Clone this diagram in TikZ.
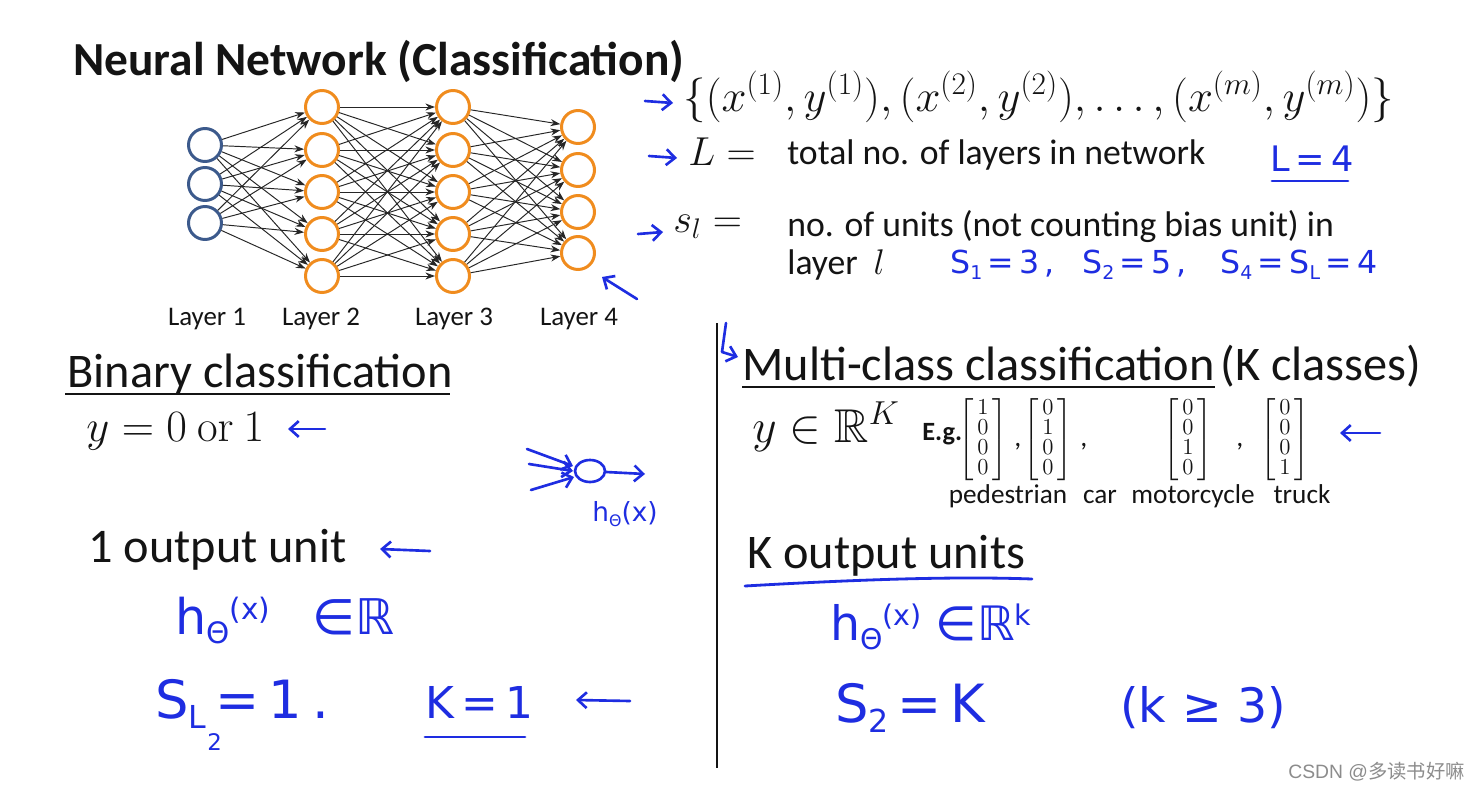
\RequirePackage{fix-cm}
\documentclass[tikz,border=0pt]{standalone}
\usepackage{amsmath,amssymb}
\usepackage[no-math]{fontspec}
\setmainfont{Carlito}
\newfontfamily\handfont{DejaVu Sans}
\newfontfamily\cjkfont{Noto Sans CJK SC}
\newfontfamily\wmfont{Liberation Sans}
\usetikzlibrary{arrows.meta}
\definecolor{ink}{RGB}{20,20,20}
\definecolor{hand}{RGB}{30,45,225}
\definecolor{nnblue}{RGB}{60,90,140}
\definecolor{nnorange}{RGB}{240,140,30}
\newcommand\hsub[1]{\raisebox{-0.35ex}{\scalebox{0.6}{#1}}}
\newcommand\hsup[1]{\raisebox{0.55ex}{\scalebox{0.6}{#1}}}
\newcommand\fs[1]{\fontsize{#1}{#1}\selectfont}
\newcommand\vecm[4]{\raisebox{-3.25pt}[20pt][20pt]{$\renewcommand\arraystretch{0.8}\setlength\arraycolsep{2pt}\left[\begin{array}{c}#1\\#2\\#3\\#4\end{array}\right]$}}
\tikzset{
  unitB/.style={circle, draw=nnblue, line width=1.7pt, minimum size=0.66cm, inner sep=0pt},
  unitO/.style={circle, draw=nnorange, line width=1.7pt, minimum size=0.66cm, inner sep=0pt},
  edge/.style={-{Stealth[length=5.5pt,width=4pt]}, line width=0.55pt, draw=black!85},
  txt/.style={inner sep=0pt, anchor=base west, text=ink},
  lab/.style={inner sep=0pt, anchor=base, text=ink, font=\fs{15.3}},
  hw/.style={inner sep=0pt, anchor=base west, text=hand, font=\handfont},
  harrow/.style={draw=hand, line width=1.5pt, line cap=round, line join=round, -{Straight Barb[length=5pt,width=9pt]}},
  hline/.style={draw=hand, line width=1.6pt, line cap=round},
  uline/.style={draw=ink, line width=1.3pt},
  vec/.style={inner sep=0pt, text=ink, font=\fs{13}}
}
\begin{document}
\begin{tikzpicture}[x=0.02cm, y=-0.02cm]
\useasboundingbox (0,0) rectangle (1475,791);
\fill[white] (0,0) rectangle (1475,791);

% ---------- title ----------
\node[txt, font=\bfseries\fs{27}] (title) at (73,75) {Neural Network (Classification)};

% ---------- network ----------
\foreach \i/\y in {1/145,2/184,3/223} \node[unitB] (a\i) at (205,\y) {};
\foreach \i/\y in {1/107,2/150,3/192,4/234,5/276} {
  \node[unitO] (b\i) at (322,\y) {};
  \node[unitO] (c\i) at (453,\y) {};
}
\foreach \i/\y in {1/127,2/170,3/212,4/253} \node[unitO] (d\i) at (578,\y) {};
\foreach \i in {1,2,3} \foreach \j in {1,...,5} \draw[edge] (a\i) -- (b\j);
\foreach \i in {1,...,5} \foreach \j in {1,...,5} \draw[edge] (b\i) -- (c\j);
\foreach \i in {1,...,5} \foreach \j in {1,...,4} \draw[edge] (c\i) -- (d\j);
\node[lab] (l1) at (207,325) {Layer 1};
\node[lab] (l2) at (321,325) {Layer 2};
\node[lab] (l3) at (454,325) {Layer 3};
\node[lab] (l4) at (579,325) {Layer 4};
\draw[harrow] (637,299) -- (602,277);

% ---------- definitions ----------
\draw[harrow] (645,101) -- (673,103);
\node[txt, font=\fs{25.5}] (set) at (683,111) {$\{(x^{(1)},y^{(1)}),(x^{(2)},y^{(2)}),\ldots,(x^{(m)},y^{(m)})\}$};
\draw[harrow] (649,156) -- (677,158);
\node[txt, font=\fs{23}] (Ldef) at (688,165) {$L =$};
\node[txt, font=\fs{20.3}] (Ltxt) at (787,164) {total no. of layers in network};
\node[hw, font=\handfont\fs{20}] (L4) at (1270,171) {L\,=\,4};
\draw[hline] (1272,181) -- (1348,181);
\draw[harrow] (638,234) -- (663,232);
\node[txt, font=\fs{23}] (sdef) at (673,232) {$s_l =$};
\node[txt, font=\fs{20.3}] (stxt) at (787,236) {no. of units (not counting bias unit) in};
\node[txt, font=\fs{20.3}] (stxt2) at (787,274) {layer\hspace{9pt}$l$};
\node[hw, font=\handfont\fs{18}] (s1) at (950,273) {S\hsub{1}\,=\,3\,,};
\node[hw, font=\handfont\fs{18}] (s2) at (1082,273) {S\hsub{2}\,=\,5\,,};
\node[hw, font=\handfont\fs{18}] (s4) at (1220,273) {S\hsub{4}\,=\,S\hsub{L}\,=\,4};

% ---------- divider ----------
\draw[line width=1.3pt, draw=ink] (717,323) -- (717,768);

% ---------- binary ----------
\node[txt, font=\fs{27.5}] (bin) at (67,387) {Binary classification};
\draw[uline] (65,394) -- (450,394);
\node[txt, font=\fs{25.5}] (y01) at (86,441) {$y = 0\ \mathrm{or}\ 1$};
\draw[harrow] (325,429) -- (288,429);
% small hand network
\draw[hand, line width=1.5pt] (590,471) ellipse (15 and 11);
\draw[harrow] (527,449) -- (573,466);
\draw[harrow] (529,464) -- (573,471);
\draw[harrow] (531,490) -- (574,477);
\draw[harrow] (606,472) -- (645,474);
\node[hw, font=\handfont\fs{15}] (hsmall) at (592,521) {h\hsub{Θ}(x)};

\node[txt, font=\fs{27.5}] (one) at (88,562) {1 output unit};
\draw[harrow] (430,551) -- (380,549);
\node[hw, font=\handfont\fs{28}] (hR) at (175,634) {h\hsub{Θ}\hsup{(x)}\hspace{24pt}∈ℝ};
\node[hw, font=\handfont\fs{30}] (sl1) at (155,718) {S\hsub{L}\,=\,1\hspace{6pt}.};
\node[hw, font=\handfont\fs{13}] (two) at (207,750) {2};
\node[hw, font=\handfont\fs{25}] (k1) at (425,718) {K\,=\,1};
\draw[hline] (425,737) -- (525,737);
\draw[harrow] (630,701) -- (576,700);

% ---------- multi-class ----------
\draw[harrow] (726,323) -- (722,352) -- (738,357);
\node[txt, font=\fs{27.5}] (multi) at (742,380) {Multi-class classification};
\draw[uline] (742,387) -- (1215,387);
\node[txt, font=\fs{27.5}] (kcl) at (1220,380) {(K classes)};
\node[txt, font=\fs{27}] (yRK) at (752,442) {$y \in \mathbb{R}^K$};
\node[txt, font=\bfseries\fs{15}] (eg) at (922,440) {E.g.};
\node[vec] (m1) at (983,440) {\vecm1000};
\node[vec] (m2) at (1048,440) {\vecm0100};
\node[vec] (m3) at (1188,440) {\vecm0010};
\node[vec] (m4) at (1285,440) {\vecm0001};
\node[txt, font=\fs{16}] (c1) at (1014,446) {,};
\node[txt, font=\fs{16}] (c2) at (1080,446) {,};
\node[txt, font=\fs{16}] (c3) at (1236,446) {,};
\draw[harrow] (1380,433) -- (1340,433);
\node[lab, font=\fs{15.5}] (ped) at (1008,503) {pedestrian};
\node[lab, font=\fs{15.5}] (car) at (1100,503) {car};
\node[lab, font=\fs{15.5}] (moto) at (1193,503) {motorcycle};
\node[lab, font=\fs{15.5}] (truck) at (1302,503) {truck};

\node[txt, font=\fs{27.5}] (kout) at (747,568) {K output units};
\draw[hline] (745,586) .. controls (850,580) and (950,576) .. (1032,579);
\node[hw, font=\handfont\fs{27}] (hRk) at (830,640) {h\hsub{Θ}\hsup{(x)}\hspace{8pt}∈ℝ\hsup{k}};
\node[hw, font=\handfont\fs{30}] (s2k) at (835,722) {S\hsub{2}\,=\,K};
\node[hw, font=\handfont\fs{27}] (kge3) at (1120,722) {(k\,\,≥\,\,3)};

% ---------- watermark ----------
\node[inner sep=0pt, anchor=base west, text=black!45, font=\wmfont\fs{11}] (wm) at (1288,778) {CSDN @{\cjkfont 多读书好嘛}};
\end{tikzpicture}
\end{document}
